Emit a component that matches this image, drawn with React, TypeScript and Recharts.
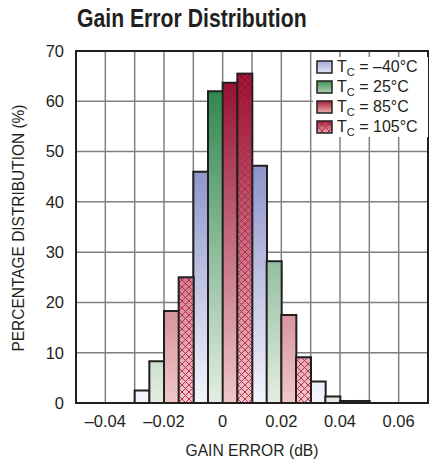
import {
  Bar,
  BarChart,
  CartesianGrid,
  Label,
  Legend,
  ReferenceArea,
  XAxis,
  YAxis,
} from "recharts";

// bin lower edges (dB), 0.005 wide
const bins = [
  -0.05, -0.045, -0.04, -0.035, -0.03, -0.025, -0.02, -0.015, -0.01, -0.005,
  0, 0.005, 0.01, 0.015, 0.02, 0.025, 0.03, 0.035, 0.04, 0.045, 0.05, 0.055,
  0.06, 0.065,
];

const m40Bins = [-0.03, -0.01, 0.01, 0.03];
const m40Values = [2.5, 46, 47.2, 4.3];
const t25Bins = [-0.025, -0.005, 0.015, 0.035];
const t25Values = [8.3, 62, 28.2, 1.3];
const t85Bins = [-0.02, 0, 0.02, 0.04];
const t85Values = [18.3, 63.7, 17.5, 0.4];
const t105Bins = [-0.015, 0.005, 0.025, 0.045];
const t105Values = [25, 65.5, 9.1, 0.4];

const seriesLabels = ["–40°C", "25°C", "85°C", "105°C"];

const xGridTicks = [
  -0.05, -0.04, -0.03, -0.02, -0.01, 0, 0.01, 0.02, 0.03, 0.04, 0.05, 0.06,
  0.07,
];
const xLabelTicks = [-0.04, -0.02, 0, 0.02, 0.04, 0.06];
const yTicks = [0, 10, 20, 30, 40, 50, 60, 70];

const series = [
  { key: "m40", bins: m40Bins, values: m40Values, fill: "url(#gBlue)" },
  { key: "t25", bins: t25Bins, values: t25Values, fill: "url(#gGreen)" },
  { key: "t85", bins: t85Bins, values: t85Values, fill: "url(#gRed)" },
  { key: "t105", bins: t105Bins, values: t105Values, fill: "url(#gRed)" },
];

const data = bins.map((b) => {
  const row: Record<string, number | null> = { bin: b };
  series.forEach((s) => {
    const i = s.bins.findIndex((v) => Math.abs(v - b) < 1e-9);
    row[s.key] = i >= 0 ? s.values[i] : null;
  });
  return row;
});

const FONT = "'Liberation Sans', Arial, sans-serif";
const INK = "#231f20";
const PLOT_TOP = 51;
const PLOT_BOTTOM = 403;

const fmtX = (v: number) => {
  if (!xLabelTicks.some((t) => Math.abs(t - v) < 1e-9)) return "";
  if (Math.abs(v) < 1e-9) return "0";
  return (v < 0 ? "–" : "") + Math.abs(v).toFixed(2);
};

const HatchedBar = (props: any) => {
  const { x, y, width, height } = props;
  if (!height || height <= 0) return null;
  return (
    <g>
      <rect x={x} y={y} width={width} height={height} fill="url(#gRed)" />
      <rect x={x} y={y} width={width} height={height} fill="url(#hatch)" />
      <rect
        x={x}
        y={y}
        width={width}
        height={height}
        fill="none"
        stroke={INK}
        strokeWidth={2}
      />
    </g>
  );
};

const swatchFills = ["url(#sBlue)", "url(#sGreen)", "url(#sRed)", "url(#sRed)"];

const LegendBox = () => (
  <div
    style={{
      background: "#fff",
      width: 115,
      height: 80,
      fontFamily: FONT,
      fontSize: 16,
      color: INK,
    }}
  >
    {seriesLabels.map((label, i) => (
      <div
        key={label}
        style={{ display: "flex", alignItems: "center", height: 20 }}
      >
        <svg width={20} height={20} style={{ marginLeft: 2 }}>
          <rect x={2} y={4} width={15} height={12} fill={swatchFills[i]} />
          {i === 3 && (
            <rect x={2} y={4} width={15} height={12} fill="url(#hatch)" />
          )}
          <rect
            x={2}
            y={4}
            width={15}
            height={12}
            fill="none"
            stroke={INK}
            strokeWidth={1.5}
          />
        </svg>
        <span style={{ marginLeft: 2, whiteSpace: "nowrap" }}>
          T
          <span style={{ fontSize: 11, position: "relative", top: 4 }}>C</span>{" "}
          = {label}
        </span>
      </div>
    ))}
  </div>
);

export default function App() {
  return (
    <div
      style={{ position: "absolute", left: 0, top: 0, width: 429, height: 459 }}
    >
      <div
        style={{
          position: "absolute",
          left: 77,
          top: 5,
          fontFamily: FONT,
          fontWeight: 700,
          fontSize: 26,
          lineHeight: "26px",
          color: INK,
          whiteSpace: "nowrap",
          transform: "scaleX(0.815)",
          transformOrigin: "0 0",
        }}
      >
        Gain Error Distribution
      </div>
      <BarChart
        width={429}
        height={459}
        data={data}
        margin={{ top: PLOT_TOP, right: 1, left: 0, bottom: 0 }}
        barCategoryGap={0}
        barGap={0}
      >
        <defs>
          <linearGradient
            id="gBlue"
            gradientUnits="userSpaceOnUse"
            x1={0}
            y1={PLOT_TOP}
            x2={0}
            y2={PLOT_BOTTOM}
          >
            <stop offset="0" stopColor="#5b66b3" />
            <stop offset="1" stopColor="#f4f5fc" />
          </linearGradient>
          <linearGradient
            id="gGreen"
            gradientUnits="userSpaceOnUse"
            x1={0}
            y1={PLOT_TOP}
            x2={0}
            y2={PLOT_BOTTOM}
          >
            <stop offset="0" stopColor="#1b7a3e" />
            <stop offset="1" stopColor="#e4eee2" />
          </linearGradient>
          <linearGradient
            id="gRed"
            gradientUnits="userSpaceOnUse"
            x1={0}
            y1={PLOT_TOP}
            x2={0}
            y2={PLOT_BOTTOM}
          >
            <stop offset="0" stopColor="#8e0024" />
            <stop offset="1" stopColor="#f0c8c8" />
          </linearGradient>
          <linearGradient id="sBlue" x1="0" y1="0" x2="0" y2="1">
            <stop offset="0" stopColor="#a3aadb" />
            <stop offset="1" stopColor="#e2e5f4" />
          </linearGradient>
          <linearGradient id="sGreen" x1="0" y1="0" x2="0" y2="1">
            <stop offset="0" stopColor="#3f8f55" />
            <stop offset="1" stopColor="#b2d3b2" />
          </linearGradient>
          <linearGradient id="sRed" x1="0" y1="0" x2="0" y2="1">
            <stop offset="0" stopColor="#a8203c" />
            <stop offset="1" stopColor="#eab0b0" />
          </linearGradient>
          <pattern
            id="hatch"
            patternUnits="userSpaceOnUse"
            width={7}
            height={7}
          >
            <path
              d="M0,0 L7,7 M7,0 L0,7"
              stroke="#bb1d47"
              strokeWidth={0.9}
              fill="none"
            />
          </pattern>
        </defs>
        <CartesianGrid xAxisId="num" stroke="#808080" strokeWidth={1.5} />
        <XAxis
          xAxisId="num"
          dataKey="bin"
          type="number"
          scale="linear"
          domain={[-0.05, 0.07]}
          ticks={xGridTicks}
          interval={0}
          tickFormatter={fmtX}
          allowDataOverflow
          height={56}
          tickSize={0}
          tickMargin={12}
          tickLine={false}
          axisLine={{ stroke: INK, strokeWidth: 2 }}
          tick={{ fill: INK, fontSize: 16.5, fontFamily: FONT }}
        >
          <Label
            content={(p: any) => {
              const vb = p.viewBox || { x: 76, y: PLOT_BOTTOM, width: 352 };
              const cx = vb.x + vb.width / 2;
              return (
                <text
                  x={cx}
                  y={vb.y + 53}
                  textAnchor="middle"
                  textLength={133}
                  lengthAdjust="spacingAndGlyphs"
                  fill={INK}
                  fontSize={16.5}
                  fontFamily={FONT}
                >
                  GAIN ERROR (dB)
                </text>
              );
            }}
          />
        </XAxis>
        <XAxis xAxisId="cat" dataKey="bin" hide height={0} />
        <YAxis
          domain={[0, 70]}
          ticks={yTicks}
          interval={0}
          width={76}
          tickSize={0}
          tickMargin={12}
          tickLine={false}
          axisLine={{ stroke: INK, strokeWidth: 2 }}
          tick={{ fill: INK, fontSize: 16.5, fontFamily: FONT }}
        >
          <Label
            content={(p: any) => {
              const vb = p.viewBox || { x: 0, y: PLOT_TOP, height: 352 };
              const cx = vb.x + 18;
              const cy = vb.y + vb.height / 2 + 1;
              return (
                <text
                  x={cx}
                  y={cy}
                  transform={`rotate(-90 ${cx} ${cy})`}
                  textAnchor="middle"
                  dominantBaseline="central"
                  textLength={247}
                  lengthAdjust="spacingAndGlyphs"
                  fill={INK}
                  fontSize={16.5}
                  fontFamily={FONT}
                >
                  PERCENTAGE DISTRIBUTION (%)
                </text>
              );
            }}
          />
        </YAxis>
        {series.slice(0, 3).map((s) => (
          <Bar
            key={s.key}
            xAxisId="cat"
            dataKey={s.key}
            stackId="a"
            fill={s.fill}
            stroke={INK}
            strokeWidth={2}
            isAnimationActive={false}
          />
        ))}
        <Bar
          xAxisId="cat"
          dataKey="t105"
          stackId="a"
          fill="url(#gRed)"
          shape={HatchedBar}
          isAnimationActive={false}
        />
        <ReferenceArea
          xAxisId="num"
          x1={-0.05}
          x2={0.07}
          y1={0}
          y2={70}
          fill="none"
          stroke={INK}
          strokeWidth={2}
        />
        <Legend
          layout="horizontal"
          verticalAlign="middle"
          align="center"
          wrapperStyle={{ left: 313, top: 57, width: 115, height: 80 }}
          content={() => <LegendBox />}
        />
      </BarChart>
    </div>
  );
}
